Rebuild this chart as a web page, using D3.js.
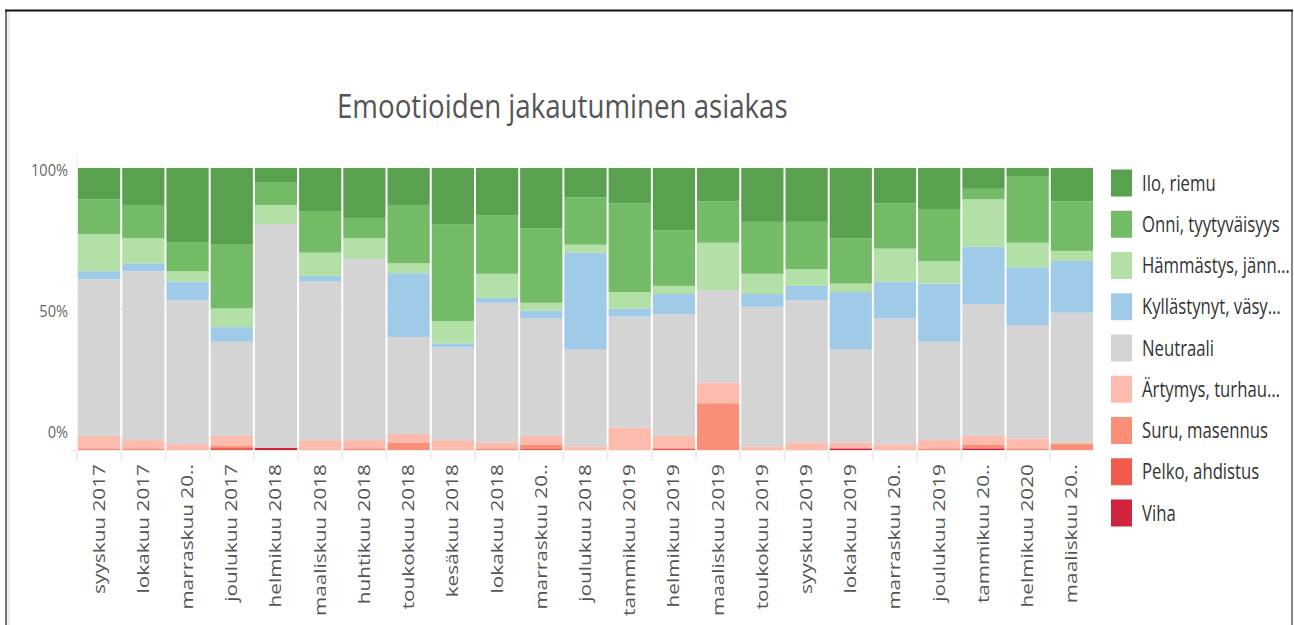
<!DOCTYPE html>
<html>
<head>
<meta charset="utf-8">
<script src="https://cdn.jsdelivr.net/npm/d3@7"></script>
<style>
  body { margin: 0; background: #fff; }
  text { font-family: "Open Sans", sans-serif; }
</style>
</head>
<body>
<svg id="plot"></svg>
<script>
// months (categories) and the labels as they are printed under the bars
var months = ["syyskuu 2017", "lokakuu 2017", "marraskuu 2017", "joulukuu 2017", "helmikuu 2018",
  "maaliskuu 2018", "huhtikuu 2018", "toukokuu 2018", "kesäkuu 2018", "lokakuu 2018",
  "marraskuu 2018", "joulukuu 2018", "tammikuu 2019", "helmikuu 2019", "maaliskuu 2019",
  "toukokuu 2019", "syyskuu 2019", "lokakuu 2019", "marraskuu 2019", "joulukuu 2019",
  "tammikuu 2020", "helmikuu 2020", "maaliskuu 2020"];
var monthLabels = ["syyskuu 2017", "lokakuu 2017", "marraskuu 20..", "joulukuu 2017", "helmikuu 2018",
  "maaliskuu 2018", "huhtikuu 2018", "toukokuu 2018", "kesäkuu 2018", "lokakuu 2018",
  "marraskuu 20..", "joulukuu 2018", "tammikuu 2019", "helmikuu 2019", "maaliskuu 2019",
  "toukokuu 2019", "syyskuu 2019", "lokakuu 2019", "marraskuu 20..", "joulukuu 2019",
  "tammikuu 20..", "helmikuu 2020", "maaliskuu 20.."];

// share of each emotion per month, %
var viha    = [0, 0, 0, 0, 0.8, 0, 0, 0, 0, 0, 0, 0, 0, 0, 0, 0, 0, 0.6, 0, 0, 0.6, 0, 0];
var pelko   = [0, 0, 0, 0.7, 0, 0, 0, 0, 0, 0, 0.6, 0, 0, 0.6, 0, 0, 0, 0, 0, 0, 0, 0, 0];
var suru    = [0.6, 0.6, 0, 0.7, 0, 0, 0.6, 2.7, 0, 0.6, 1.4, 0, 0, 0, 16.6, 0, 0, 0, 0, 0.6, 1.4, 0.6, 2.1];
var artymys = [4.4, 2.9, 2.1, 3.6, 0, 3.5, 2.9, 3.0, 3.5, 2.1, 3.0, 1.3, 7.9, 4.4, 7.3, 1.3, 2.7, 2.1, 2.0, 2.9, 3.0, 3.5, 0.6];
var neutraali = [55.5, 59.9, 51.0, 33.4, 79.3, 56.2, 64.2, 34.3, 32.9, 49.5, 41.6, 34.3, 39.4, 43.1, 32.8, 49.5, 50.4, 32.9, 44.6, 34.9, 46.7, 40.2, 46.0];
var kyllastynyt = [2.9, 2.8, 6.6, 5.2, 0, 2.1, 0, 22.7, 1.4, 1.7, 2.9, 34.3, 2.8, 7.2, 0, 4.5, 5.1, 20.4, 13.1, 20.6, 20.4, 20.5, 18.3];
var hammastys = [13.1, 8.9, 3.7, 6.6, 6.8, 8.2, 7.4, 3.5, 7.9, 8.6, 2.7, 2.9, 5.9, 2.9, 16.8, 7.2, 5.9, 3.0, 11.7, 8.0, 16.8, 8.7, 3.6];
var onni    = [12.4, 11.8, 10.3, 22.6, 7.9, 14.5, 7.2, 20.7, 34.4, 20.6, 26.4, 16.8, 31.5, 19.7, 14.7, 18.4, 16.8, 16.1, 16.1, 18.2, 3.7, 23.4, 17.6];
var ilo     = [11.1, 13.1, 26.3, 27.2, 5.2, 15.5, 17.7, 13.1, 19.9, 16.9, 21.4, 10.4, 12.5, 22.1, 11.8, 19.1, 19.1, 24.9, 12.5, 14.8, 7.4, 3.1, 11.8];

// legend names, top to bottom, and the text shown for them
var seriesNames = ["Ilo, riemu", "Onni, tyytyväisyys", "Hämmästys, jännitys", "Kyllästynyt, väsynyt",
  "Neutraali", "Ärtymys, turhautuminen", "Suru, masennus", "Pelko, ahdistus", "Viha"];
var legendLabels = ["Ilo, riemu", "Onni, tyytyväisyys", "Hämmästys, jänn…", "Kyllästynyt, väsy…",
  "Neutraali", "Ärtymys, turhau…", "Suru, masennus", "Pelko, ahdistus", "Viha"];
var yTicks = [0, 0.5, 1];

var colors = ["#59a14f", "#74bb67", "#b3e0a6", "#a0cbe8", "#d4d4d4", "#fdbbae", "#f98f78", "#ef5c4b", "#d0243d"];

var seriesValues = [ilo, onni, hammastys, kyllastynyt, neutraali, artymys, suru, pelko, viha];

var W = 1294, H = 625;
var svg = d3.select("#plot").attr("width", W).attr("height", H);

// rows for d3.stack
var rows = months.map(function(m, i) {
  var r = {month: m};
  seriesNames.forEach(function(s, j) { r[s] = seriesValues[j][i]; });
  return r;
});
var stackOrder = seriesNames.slice().reverse(); // Viha at the bottom
var stacked = d3.stack().keys(stackOrder).offset(d3.stackOffsetExpand)(rows);
var color = d3.scaleOrdinal().domain(seriesNames).range(colors);

var x = d3.scaleBand().domain(months).range([78, 1093]).paddingInner(0.045);
var y = d3.scaleLinear().domain([0, 1]).range([450, 168]);

// frame of the screenshot
svg.append("rect").attr("x", 7).attr("y", 11).attr("width", 3).attr("height", H).attr("fill", "#eeeeee");
svg.append("line").attr("x1", 6).attr("x2", 6).attr("y1", 10).attr("y2", H)
  .attr("stroke", "#777").attr("stroke-width", 2);
svg.append("line").attr("x1", 1292).attr("x2", 1292).attr("y1", 10).attr("y2", H)
  .attr("stroke", "#888").attr("stroke-width", 2);
svg.append("line").attr("x1", 5).attr("x2", 1293).attr("y1", 10.5).attr("y2", 10.5)
  .attr("stroke", "#111").attr("stroke-width", 2);

// title, squeezed to the reference width
var title = svg.append("text")
  .attr("font-size", 33).attr("fill", "#555")
  .text("Emootioiden jakautuminen asiakas");
var tw = title.node().getComputedTextLength();
title.attr("transform", "translate(337,118) scale(" + (451 / tw) + ",1)");

// gridlines
svg.append("g").selectAll("line").data(yTicks).enter().append("line")
  .attr("x1", function(d) { return d === 0 ? 70 : 78; }).attr("x2", 1094)
  .attr("y1", function(d) { return y(d) + 0.5; }).attr("y2", function(d) { return y(d) + 0.5; })
  .attr("stroke", "#ececec").attr("stroke-width", 1.5);
svg.append("line").attr("x1", 77.5).attr("x2", 77.5).attr("y1", 153).attr("y2", 460)
  .attr("stroke", "#f0f0f0").attr("stroke-width", 1);

// x tick marks between bars
var gap = x.step() - x.bandwidth();
svg.append("g").selectAll("line").data(months).enter().append("line")
  .attr("x1", function(d) { return x(d) - gap / 2; }).attr("x2", function(d) { return x(d) - gap / 2; })
  .attr("y1", 452).attr("y2", 461)
  .attr("stroke", "#eaeaea").attr("stroke-width", 1.5);

// bars
svg.append("g").selectAll("g").data(stacked).enter().append("g")
  .attr("fill", function(d) { return color(d.key); })
  .selectAll("rect").data(function(d) { return d; }).enter().append("rect")
  .attr("x", function(d) { return x(d.data.month); })
  .attr("width", x.bandwidth())
  .attr("y", function(d) { return y(d[1]); })
  .attr("height", function(d) { return y(d[0]) - y(d[1]); });

// y axis labels
var yl = svg.append("g").selectAll("text").data(yTicks).enter().append("text")
  .attr("font-size", 17).attr("fill", "#666").attr("text-anchor", "end")
  .text(function(d) { return d3.format(".0%")(d); });
var w100 = yl.filter(function(d) { return d === 1; }).node().getComputedTextLength();
var ys = 37 / w100;
yl.attr("transform", function(d) {
  var cy = d === 0 ? 432 : y(d) + 2;
  return "translate(68," + cy + ") scale(" + ys + ",1)";
}).attr("dy", "0.35em");

// x labels, rotated
var xl = svg.append("g").selectAll("text").data(months).enter().append("text")
  .attr("font-size", 20).attr("fill", "#555").attr("text-anchor", "end").attr("dy", "0.35em")
  .text(function(d, i) { return monthLabels[i]; });
var wRef = xl.filter(function(d, i) { return i === 0; }).node().getComputedTextLength();
var xs = 130 / wRef;
xl.attr("transform", function(d) {
  return "translate(" + (x(d) + x.bandwidth() / 2) + ",464) rotate(-90) scale(" + xs + ",0.78)";
});

// legend
var leg = svg.append("g").selectAll("g").data(seriesNames).enter().append("g")
  .attr("transform", function(d, i) { return "translate(1111," + (183 + i * 41.25) + ")"; });
leg.append("rect").attr("x", 0).attr("y", -13.5).attr("width", 21).attr("height", 27)
  .attr("fill", function(d) { return color(d); });
var lt = leg.append("text").attr("font-size", 22).attr("fill", "#333").attr("dy", "0.35em")
  .text(function(d, i) { return legendLabels[i]; });
var wOnni = lt.filter(function(d, i) { return i === 1; }).node().getComputedTextLength();
var ls = 138 / wOnni;
lt.attr("transform", "translate(31,0) scale(" + ls + ",1)");
</script>
</body>
</html>
